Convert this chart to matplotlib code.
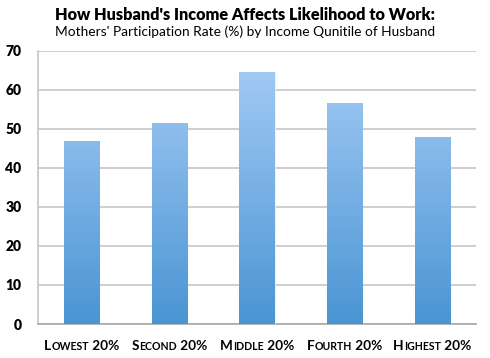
import matplotlib
matplotlib.use("Agg")
import matplotlib.pyplot as plt
import numpy as np
from matplotlib.offsetbox import TextArea, HPacker, AnnotationBbox
from matplotlib.colors import LinearSegmentedColormap

categories_first = ["L", "S", "M", "F", "H"]
categories_rest = ["OWEST", "ECOND", "IDDLE", "OURTH", "IGHEST"]
categories_suffix = " 20%"
values = [46.8, 51.4, 64.4, 56.6, 47.8]
yticks = [0, 10, 20, 30, 40, 50, 60, 70]

title = "How Husband's Income Affects Likelihood to Work:"
subtitle = "Mothers' Participation Rate (%) by Income Qunitile of Husband"

plt.rcParams['font.family'] = ['Lato', 'DejaVu Sans']

fig = plt.figure(figsize=(4.9, 3.58), dpi=100)
ax = fig.add_axes([38/490, 34/358, 438/490, 273.5/358])

x = np.arange(len(values))
width = 0.4
bars = ax.bar(x, values, width=width, color='none', edgecolor='none', zorder=3)
cmap = LinearSegmentedColormap.from_list("g", ["#4a95d3", "#a8cdf7"])
grad = np.linspace(0, 1, 256).reshape(-1, 1)
for b in bars:
    x0, y0 = b.get_x(), b.get_y()
    w, h = b.get_width(), b.get_height()
    im = ax.imshow(grad, cmap=cmap, origin='lower', aspect='auto',
                   extent=[x0, x0 + w, 0, 70], zorder=3)
    im.set_clip_path(b)
    b.set_edgecolor('#e8f0fa')
    b.set_linewidth(0.6)

ax.set_xlim(-0.5, len(values) - 0.5)
ax.set_ylim(0, 70)
ax.set_yticks(yticks)
ax.set_yticklabels([str(t) for t in yticks], fontweight='heavy', fontsize=10)
ax.yaxis.grid(True, color='#c6c6c6', linewidth=1.2, zorder=0)
ax.set_axisbelow(True)
ax.tick_params(axis='y', length=0, pad=12)
ax.tick_params(axis='x', length=0)
ax.set_xticks([])
for s in ['top', 'right']:
    ax.spines[s].set_visible(False)
ax.spines['left'].set_color('#c6c6c6')
ax.spines['left'].set_linewidth(1.2)
ax.spines['bottom'].set_color('#a8a8a8')
ax.spines['bottom'].set_linewidth(1.2)

for i in range(len(values)):
    parts = [
        TextArea(categories_first[i], textprops=dict(fontsize=9.8, fontweight='bold')),
        TextArea(categories_rest[i], textprops=dict(fontsize=7.6, fontweight='bold')),
        TextArea(categories_suffix, textprops=dict(fontsize=9.8, fontweight='bold')),
    ]
    pack = HPacker(children=parts, align='baseline', pad=0, sep=0)
    ab = AnnotationBbox(pack, (i, 0), xybox=(0, -16), xycoords='data',
                        boxcoords='offset points', frameon=False,
                        box_alignment=(0.5, 0.5))
    ax.add_artist(ab)

fig.text(0.5, 1 - 20/358, title, ha='center', va='baseline',
         fontsize=11.7, fontweight='heavy')
fig.text(0.5, 1 - 36/358, subtitle, ha='center', va='baseline', fontsize=9.9)

fig.savefig("out.png", dpi=100)
